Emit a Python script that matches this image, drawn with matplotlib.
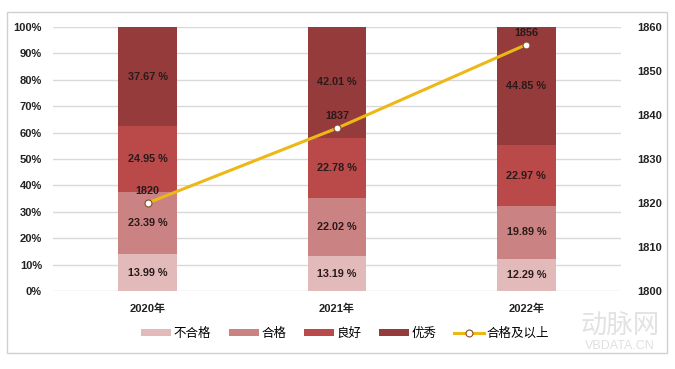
import matplotlib.pyplot as plt
import numpy as np
from matplotlib.patches import Rectangle

plt.rcParams['font.family'] = ['Liberation Sans', 'Noto Sans CJK SC']

years = ['2020年', '2021年', '2022年']
series_names = ['不合格', '合格', '良好', '优秀']
buhege = [13.99, 13.19, 12.29]
hege = [23.39, 22.02, 19.89]
lianghao = [24.95, 22.78, 22.97]
youxiu = [37.67, 42.01, 44.85]
line_name = '合格及以上'
line_vals = [1820, 1837, 1856]

colors = ['#E3BABA', '#CB8282', '#BA4949', '#963B3B']
line_color = '#EDB817'

fig = plt.figure(figsize=(6.75, 3.69), dpi=100)
fig.patches.append(Rectangle((7 / 675, 1 - 353 / 369), 660 / 675, 341 / 369,
                             transform=fig.transFigure, fill=False,
                             edgecolor='#D0D0D0', linewidth=1))
ax = fig.add_axes([53 / 675, 1 - 291 / 369, 568 / 675, 264 / 369])
ax2 = ax.twinx()

x = np.arange(len(years))
bottom = np.zeros(len(years))
for vals, name, c in zip([buhege, hege, lianghao, youxiu], series_names, colors):
    vals = np.array(vals)
    ax.bar(x, vals, 0.31, bottom=bottom, color=c, label=name, zorder=2)
    for xi, b, v in zip(x, bottom, vals):
        ax.text(xi, b + v / 2, f'{v:.2f} %', ha='center', va='center',
                fontsize=7.8, fontweight='bold', color='#2A1A1A', zorder=3)
    bottom += vals

ax.set_xlim(-0.5, 2.5)
ax.set_ylim(0, 100)
ax.set_yticks(np.arange(0, 101, 10))
ax.set_yticklabels([f'{v}%' for v in range(0, 101, 10)])
ax.grid(axis='y', color='#D9D9D9', linewidth=1, zorder=0)
ax.set_axisbelow(True)
ax.set_xticks(x)
ax.set_xticklabels(years, fontweight='bold', fontsize=8)
for s in ax.spines.values():
    s.set_visible(False)
ax.tick_params(length=0, labelsize=8, colors='#222222', pad=8)
ax.tick_params(axis='x', pad=9)

ax2.plot(x, line_vals, color=line_color, linewidth=2.2, marker='o',
         markersize=5, markerfacecolor='white', markeredgecolor='#8A4A2A',
         markeredgewidth=0.8, label=line_name, zorder=4)
for xi, v in zip(x, line_vals):
    ax2.text(xi, v + 1.6, str(v), ha='center', va='bottom', fontsize=7.8,
             fontweight='bold', color='#2A1A1A')
ax2.set_ylim(1800, 1860)
ax2.set_yticks(np.arange(1800, 1861, 10))
for s in ax2.spines.values():
    s.set_visible(False)
ax2.tick_params(length=0, labelsize=8, colors='#222222', pad=12)
for lab in ax.get_yticklabels() + ax2.get_yticklabels():
    lab.set_fontweight('bold')

h1, l1 = ax.get_legend_handles_labels()
h2, l2 = ax2.get_legend_handles_labels()
fig.legend(h1 + h2, l1 + l2, loc='center', bbox_to_anchor=(345 / 675, 1 - 334 / 369),
           ncol=5, frameon=False, fontsize=9, handlelength=2.4, handleheight=0.55,
           columnspacing=1.4, handletextpad=0.2)

# faint watermark
fig.text(620 / 675, 1 - 327 / 369, '动脉网', ha='center', va='center',
         fontsize=19, color='#E2E2E2')
fig.text(620 / 675, 1 - 346 / 369, 'VBDATA.CN', ha='center', va='center',
         fontsize=9, color='#E0E0E0')

fig.savefig('out.png', dpi=100)
